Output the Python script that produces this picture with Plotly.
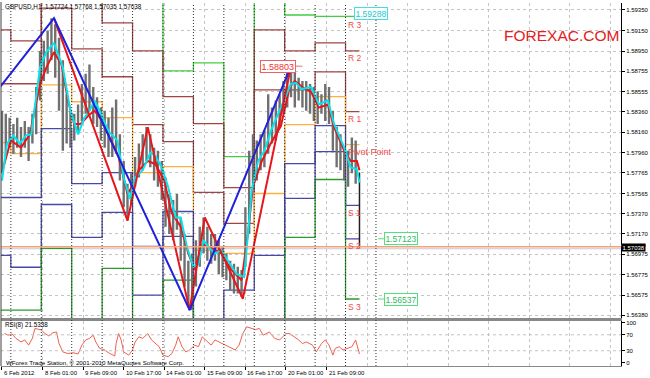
import plotly.graph_objects as go

# ---------------- data ----------------
# H1 bars, sampled every 3 bars (index 0 = 6 Feb 17:00)
bar_idx = list(range(0, 282, 3)) + [282]
bar_high = [1.5837, 1.5834, 1.5830, 1.5824, 1.5830, 1.5821, 1.5827, 1.5821, 1.5834, 1.5860,
            1.5895, 1.5905, 1.5915, 1.5927, 1.5921, 1.5908, 1.5886, 1.5853, 1.5837, 1.5834,
            1.5843, 1.5863, 1.5873, 1.5882, 1.5860, 1.5850, 1.5840, 1.5837, 1.5830, 1.5840,
            1.5848, 1.5814, 1.5788, 1.5766, 1.5776, 1.5792, 1.5805, 1.5814, 1.5821, 1.5814,
            1.5801, 1.5798, 1.5788, 1.5772, 1.5756, 1.5750, 1.5756, 1.5733, 1.5717, 1.5691,
            1.5698, 1.5711, 1.5724, 1.5733, 1.5724, 1.5717, 1.5717, 1.5711, 1.5704, 1.5698,
            1.5691, 1.5688, 1.5685, 1.5682, 1.5743, 1.5798, 1.5814, 1.5808, 1.5814, 1.5818,
            1.5853, 1.5840, 1.5847, 1.5853, 1.5866, 1.5876, 1.5880, 1.5876, 1.5869, 1.5866,
            1.5866, 1.5863, 1.5860, 1.5856, 1.5853, 1.5863, 1.5860, 1.5837, 1.5821, 1.5814,
            1.5801, 1.5798, 1.5811, 1.5808, 1.57768]
bar_low = [1.5776, 1.5792, 1.5801, 1.5795, 1.5801, 1.5792, 1.5801, 1.5788, 1.5805, 1.5814,
           1.5847, 1.5866, 1.5873, 1.5886, 1.5869, 1.5837, 1.5798, 1.5805, 1.5801, 1.5808,
           1.5814, 1.5827, 1.5834, 1.5837, 1.5824, 1.5821, 1.5808, 1.5801, 1.5792, 1.5792,
           1.5795, 1.5769, 1.5743, 1.5730, 1.5746, 1.5763, 1.5772, 1.5779, 1.5788, 1.5782,
           1.5769, 1.5763, 1.5750, 1.5724, 1.5717, 1.5711, 1.5721, 1.5691, 1.5666, 1.5649,
           1.5643, 1.5666, 1.5685, 1.5698, 1.5691, 1.5688, 1.5691, 1.5678, 1.5675, 1.5672,
           1.5662, 1.5659, 1.5659, 1.5656, 1.5685, 1.5717, 1.5763, 1.5769, 1.5779, 1.5782,
           1.5795, 1.5805, 1.5808, 1.5821, 1.5834, 1.5840, 1.5850, 1.5840, 1.5847, 1.5840,
           1.5837, 1.5834, 1.5827, 1.5824, 1.5834, 1.5827, 1.5824, 1.5798, 1.5782, 1.5779,
           1.5769, 1.5763, 1.5776, 1.5766, 1.57035]

# moving averages
cyan_x = [0, 4, 9, 14, 19, 23, 30, 35, 41, 48, 54, 60, 65, 69, 73, 77, 84, 91, 96, 101,
          105, 111, 117, 121, 126, 131, 137, 141, 146, 151, 155, 159, 163, 168, 173, 181, 185, 191, 197, 202,
          207, 212, 220, 228, 232, 236, 244, 250, 257, 262, 270, 275, 280, 282]
cyan_v = [1.5769, 1.5805, 1.5813, 1.5805, 1.5813, 1.5814, 1.5879, 1.5894, 1.5903, 1.5879,
          1.5837, 1.5814, 1.5830, 1.5837, 1.5847, 1.5837, 1.5817, 1.5808, 1.5772, 1.5751,
          1.5772, 1.5779, 1.5796, 1.5793, 1.5782, 1.5763, 1.5733, 1.5733, 1.5704, 1.5685,
          1.5688, 1.5711, 1.5704, 1.5698, 1.5701, 1.5685, 1.5678, 1.5675, 1.5759, 1.5788,
          1.5798, 1.5817, 1.5840, 1.5863, 1.5864, 1.5858, 1.5860, 1.5843, 1.5847, 1.5824,
          1.5801, 1.5782, 1.5780, 1.5767]
red_x = [0, 7, 15, 22, 30, 35, 41, 47, 52, 57, 62, 68, 73, 79, 86, 92, 99, 103, 108, 115,
         121, 128, 134, 141, 147, 152, 158, 166, 173, 181, 189, 194, 198, 205, 212, 220, 227, 231, 237, 244,
         250, 257, 262, 270, 275, 280, 282]
red_v = [1.5777, 1.5808, 1.5801, 1.5814, 1.5863, 1.5879, 1.5894, 1.5882, 1.5847, 1.5824,
         1.5824, 1.5832, 1.5837, 1.5827, 1.5808, 1.5792, 1.5756, 1.5764, 1.5779, 1.5788,
         1.5785, 1.5769, 1.5737, 1.5724, 1.5698, 1.5682, 1.5707, 1.5703, 1.5698, 1.5682,
         1.5672, 1.5717, 1.5763, 1.5788, 1.5805, 1.5822, 1.5860, 1.5866, 1.5860, 1.5855,
         1.5840, 1.5843, 1.5821, 1.5798, 1.5788, 1.5788, 1.5779]

# zigzags
zz_blue_x = [-1.5, 41, 148, 228]
zz_blue_y = [1.5860, 1.5927, 1.5643, 1.58803]
zz_red_x = [41, 99, 115, 148, 160, 190, 228]
zz_red_y = [1.5927, 1.5730, 1.5821, 1.5643, 1.5733, 1.5654, 1.58803]

# daily pivot levels (OFF_* = beyond the visible price range)
OFF_HI = 1.5970
OFF_LO = 1.5600
day_start = [-1.5, 7, 31, 55, 79, 103, 127, 151, 175, 199, 223, 247, 271]
day_end = 282
r3 = [OFF_HI] * 6 + [1.58758, 1.58836, 1.57923, OFF_HI, 1.59301, 1.59288, 1.59288]
r2 = [1.59156, 1.59049, OFF_HI, OFF_HI, 1.59224, 1.58952, 1.58506, 1.58244, 1.57622, 1.59156, 1.58952, 1.59030, 1.58952]
r1 = [1.58632, 1.58632, 1.59369, 1.58971, 1.58700, 1.58234, 1.58069, 1.57574, 1.57273, 1.58573, 1.58573, 1.58748, 1.58360]
pp = [1.58059, 1.57952, 1.58622, 1.58457, 1.58302, 1.57768, 1.57826, 1.57011, 1.56982, 1.57564, 1.58234, 1.58506, 1.58040]
s1 = [1.57525, 1.57525, 1.58195, 1.57661, 1.57768, 1.57050, 1.57389, OFF_LO, 1.56623, 1.56962, 1.57855, 1.58224, 1.57448]
s2 = [1.56962, 1.56846, 1.57457, 1.57137, 1.57380, 1.56574, 1.57147, OFF_LO, OFF_LO, OFF_LO, 1.57516, 1.57972, 1.57123]
s3 = [1.56428, 1.56428, 1.57030, OFF_LO, 1.56836, OFF_LO, 1.56720, OFF_LO, OFF_LO, OFF_LO, 1.57137, 1.57700, 1.56537]
level_names = ["R 3", "R 2", "R 1", "Pivot Point", "S 1", "S 2", "S 3"]

# RSI(8)
rsi_x = [2, 5, 8, 11, 15, 18, 21, 24, 26, 31, 34, 37, 40, 43, 45, 48, 52, 56, 60, 63,
         66, 69, 72, 74, 77, 81, 85, 89, 90, 92, 94, 96, 100, 103, 105, 108, 111, 115, 118, 121,
         124, 127, 131, 134, 137, 139, 142, 145, 148, 152, 155, 158, 161, 165, 168, 171, 176, 181, 184, 187,
         190, 193, 197, 200, 203, 206, 211, 215, 219, 224, 227, 231, 234, 237, 240, 245, 248, 252, 255, 258,
         261, 263, 266, 269, 273, 276, 279, 281, 282]
rsi_v = [73, 69, 72, 61, 52, 57, 44, 61, 86, 82, 73, 67, 75, 77, 48, 27, 23, 25, 22, 44,
         57, 61, 69, 52, 36, 32, 23, 17, 48, 73, 57, 27, 19, 32, 52, 65, 61, 73, 57, 48,
         40, 19, 15, 23, 44, 65, 40, 27, 32, 44, 40, 65, 57, 44, 57, 52, 44, 36, 32, 44,
         73, 90, 86, 83, 86, 69, 77, 61, 57, 73, 73, 65, 57, 48, 52, 44, 27, 48, 57, 44,
         19, 36, 40, 32, 36, 40, 57, 32, 21.5338]

# axes
ytick_vals = [1.59350, 1.59150, 1.58950, 1.58755, 1.58555, 1.58360, 1.58160, 1.57960,
              1.57765, 1.57565, 1.57370, 1.57170, 1.56975, 1.56775, 1.56575, 1.56380]
xtick_idx = [0, 32, 64, 96, 128, 160, 192, 224, 256]
xtick_text = ["6 Feb 2012", "8 Feb 01:00", "9 Feb 09:00", "10 Feb 17:00", "14 Feb 01:00",
              "15 Feb 09:00", "16 Feb 17:00", "20 Feb 01:00", "21 Feb 09:00"]
future_grid = [288, 320, 352, 384, 416, 448, 480]
separators = [7, 31, 55, 79, 103, 127, 151, 175, 199, 223, 247, 271, 295]
last_price = 1.57038
title_text = "GBPUSD,H1  1.57724 1.57768 1.57035 1.57038"

# ---------------- figure ----------------
FONT = "Liberation Sans, Arial, sans-serif"
W, H = 650, 378
ML, MR, MT, MB = 1, 24, 1, 12
PW, PH = W - ML - MR, H - MT - MB


def PX(p):
    return (p - ML) / PW


def PY(p):
    return (H - MB - p) / PH


fig = go.Figure()

# pivot step lines
pivot_sets = [(r3, "#44cc44"), (r2, "#a04545"), (r1, "#a04545"), (pp, "#ffb040"),
              (s1, "#4848a8"), (s2, "#4848a8"), (s3, "#2a9a2a")]
for vals, col in pivot_sets:
    fig.add_trace(go.Scatter(x=day_start + [day_end], y=vals + [vals[-1]], mode="lines",
                             line=dict(color=col, width=1.3, shape="hv"), hoverinfo="skip"))

# current price lines
fig.add_hline(y=last_price + 0.00008, line=dict(color="#f4a07c", width=1.5), layer="above")
fig.add_hline(y=last_price - 0.00012, line=dict(color="#c8c8c8", width=1), layer="below")

# price bars
bx, by = [], []
for x, h, l in zip(bar_idx[:-1], bar_high[:-1], bar_low[:-1]):
    bx += [x, x, None]
    by += [l, h, None]
fig.add_trace(go.Scatter(x=bx, y=by, mode="lines", line=dict(color="#707070", width=2.4),
                         hoverinfo="skip"))
fig.add_trace(go.Scatter(x=[bar_idx[-1], bar_idx[-1]], y=[bar_low[-1], bar_high[-1]], mode="lines",
                         line=dict(color="#202020", width=1.5), hoverinfo="skip"))

# MAs and zigzags
fig.add_trace(go.Scatter(x=red_x, y=red_v, mode="lines", line=dict(color="#e8161b", width=2),
                         hoverinfo="skip"))
fig.add_trace(go.Scatter(x=cyan_x, y=cyan_v, mode="lines", line=dict(color="#00e5ee", width=2),
                         hoverinfo="skip"))
fig.add_trace(go.Scatter(x=zz_red_x, y=zz_red_y, mode="lines", line=dict(color="#e8161b", width=2),
                         hoverinfo="skip"))
fig.add_trace(go.Scatter(x=zz_blue_x, y=zz_blue_y, mode="lines", line=dict(color="#2020e0", width=2),
                         hoverinfo="skip"))

# RSI
fig.add_trace(go.Scatter(x=rsi_x, y=rsi_v, mode="lines", line=dict(color="#f06050", width=1),
                         xaxis="x2", yaxis="y2", hoverinfo="skip"))

grid = dict(showgrid=True, gridcolor="#c4c4c4", griddash="dot", gridwidth=1)
fig.update_layout(
    width=W, height=H, margin=dict(l=ML, r=MR, t=MT, b=MB),
    paper_bgcolor="white", plot_bgcolor="white", showlegend=False,
    font=dict(family=FONT, size=6, color="black"),
    xaxis=dict(domain=[0, 1], anchor="y", range=[-0.78, 488.3], tickvals=xtick_idx,
               showticklabels=False, ticks="", zeroline=False, showline=True,
               linecolor="#888888", linewidth=2,
               minor=dict(tickvals=future_grid, showgrid=True, gridcolor="#c4c4c4", griddash="dot", ticks=""),
               **grid),
    yaxis=dict(domain=[PY(318), PY(2)], anchor="x", range=[1.56351, 1.59418], side="right",
               tickvals=ytick_vals, ticktext=["%.5f" % v for v in ytick_vals],
               tickfont=dict(size=6), ticks="outside", ticklen=3, tickcolor="black",
               showline=True, linecolor="black", linewidth=1, zeroline=False, **grid),
    xaxis2=dict(domain=[0, 1], anchor="y2", matches="x", range=[-0.78, 488.3], tickvals=xtick_idx,
                showticklabels=False, ticks="outside", ticklen=3, tickcolor="black",
                zeroline=False, showline=True, mirror=True, linecolor="#888888", linewidth=1,
                minor=dict(tickvals=future_grid, showgrid=True, gridcolor="#c4c4c4", griddash="dot", ticks=""),
                **grid),
    yaxis2=dict(domain=[0, PY(321)], anchor="x2", range=[-8.25, 104.25], side="right",
                tickvals=[100, 70, 30, 0], ticktext=["100", "70", "30", "0"], tickfont=dict(size=6),
                ticks="outside", ticklen=3, tickcolor="black", showgrid=False,
                showline=True, linecolor="black", linewidth=1, zeroline=False),
)

# RSI reference levels
for lv in (70, 30):
    fig.add_shape(type="line", xref="paper", yref="y2", x0=0, x1=1, y0=lv, y1=lv,
                  line=dict(color="#c4c4c4", width=1, dash="dot"))

# period separators
for s in separators:
    fig.add_shape(type="line", xref="x", yref="paper", x0=s, x1=s, y0=0, y1=PY(2),
                  line=dict(color="#303030", width=1, dash="1px,2px"))

# left frame
fig.add_shape(type="line", xref="paper", yref="paper", x0=0, x1=0, y0=0, y1=1,
              line=dict(color="#404040", width=1))

# pivot labels
pivot_last = [r3[-1], r2[-1], r1[-1], pp[-1], s1[-1], s2[-1], s3[-1]]
for name, v in zip(level_names, pivot_last):
    fig.add_annotation(x=day_start[-1] + 0.6, y=v, xref="x", yref="y", text=name, showarrow=False,
                       xanchor="left", yanchor="top", yshift=-2 if name == "R 3" else -0.5,
                       font=dict(family=FONT, size=9 if name == "Pivot Point" else 8.5, color="#f04a4a"))

# price boxes
boxes = [(r3[-1], 277.5, "#18c8d0", "#40e0e0", 2.5), (s2[-1], 301.3, "#30b860", "#50e080", 0),
         (s3[-1], 301.3, "#30b860", "#50e080", 0)]
for v, xi, fc, bc, ys in boxes:
    fig.add_annotation(x=xi, y=v, xref="x", yref="y", text="%.5f" % v, showarrow=False,
                       xanchor="left", yanchor="middle", yshift=ys, bgcolor="white", bordercolor=bc,
                       borderwidth=1, borderpad=0.5, font=dict(family=FONT, size=8.5, color=fc))
    if xi > 290:
        fig.add_shape(type="line", xref="x", yref="y", x0=xi - 4.7, x1=xi, y0=v, y1=v,
                      line=dict(color=bc, width=1))

# zigzag high label
zz_hi = zz_red_y[-1]
fig.add_annotation(x=zz_red_x[-1] + 3.6, y=zz_hi, xref="x", yref="y", text="%.5f" % zz_hi,
                   showarrow=False, xanchor="right", yanchor="middle", bgcolor="white",
                   bordercolor="#f06060", borderwidth=1, borderpad=0.5,
                   font=dict(family=FONT, size=9, color="#f03030"))
fig.add_shape(type="line", xref="x", yref="y", x0=zz_red_x[-1] + 3.6, x1=zz_red_x[-1] + 9,
              y0=zz_hi, y1=zz_hi, line=dict(color="#e07070", width=1))

# last price box on the axis
fig.add_shape(type="rect", xref="paper", yref="y", x0=1.0, x1=1.04, y0=last_price + 0.00010,
              y1=last_price + 0.00030, line=dict(width=0), fillcolor="#e83030")
fig.add_annotation(x=1.0, y=last_price, xref="paper", yref="y", text="%.5f" % last_price,
                   showarrow=False, xanchor="left", yanchor="middle", bgcolor="black",
                   borderpad=0.5, font=dict(family=FONT, size=6, color="white"))

# x-axis labels (left aligned at ticks)
for xi, t in zip(xtick_idx, xtick_text):
    fig.add_annotation(x=xi, y=0, xref="x2", yref="paper", text=t, showarrow=False,
                       xanchor="left", yanchor="top", xshift=0, yshift=-2,
                       font=dict(family=FONT, size=6, color="black"))

# texts
fig.add_annotation(x=PX(3), y=PY(5.5), xref="paper", yref="paper", text=title_text, showarrow=False,
                   xanchor="left", yanchor="middle", font=dict(family=FONT, size=6.3, color="black"))
fig.add_annotation(x=PX(506), y=PY(34.5), xref="paper", yref="paper", text="FOREXAC.COM",
                   showarrow=False, xanchor="left", yanchor="middle",
                   font=dict(family=FONT, size=15.5, color="#e42020"))
fig.add_annotation(x=PX(3), y=PY(325), xref="paper", yref="paper", text="RSI(8) 21.5338",
                   showarrow=False, xanchor="left", yanchor="middle",
                   font=dict(family=FONT, size=6.3, color="black"))
fig.add_annotation(x=PX(4), y=PY(362), xref="paper", yref="paper",
                   text="WForex Trade Station, © 2001-2010 MetaQuotes Software Corp.",
                   showarrow=False, xanchor="left", yanchor="middle",
                   font=dict(family=FONT, size=6.2, color="black"))

fig.write_html("out.html")
